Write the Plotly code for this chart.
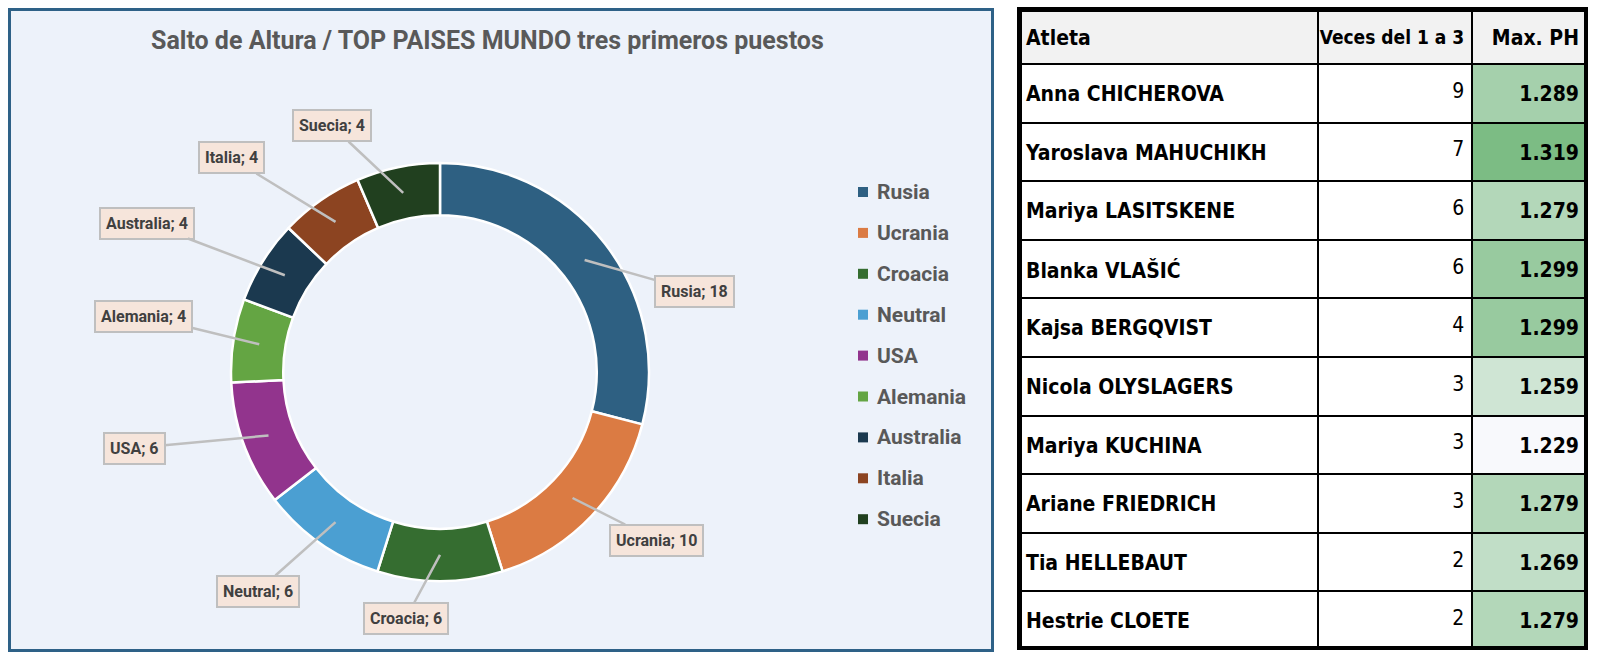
import math
import plotly.graph_objects as go

W, H = 1604, 664

# ---------------- data ----------------
countries = ["Rusia", "Ucrania", "Croacia", "Neutral", "USA", "Alemania", "Australia", "Italia", "Suecia"]
podiums = [18, 10, 6, 6, 6, 4, 4, 4, 4]

athletes = ["Anna CHICHEROVA", "Yaroslava MAHUCHIKH", "Mariya LASITSKENE", "Blanka VLAŠIĆ",
            "Kajsa BERGQVIST", "Nicola OLYSLAGERS", "Mariya KUCHINA", "Ariane FRIEDRICH",
            "Tia HELLEBAUT", "Hestrie CLOETE"]
times_top3 = [9, 7, 6, 6, 4, 3, 3, 3, 2, 2]
max_ph = [1.289, 1.319, 1.279, 1.299, 1.299, 1.259, 1.229, 1.279, 1.269, 1.279]
header_labels = ["Atleta", "Veces del 1 a 3", "Max. PH"]

TITLE = "Salto de Altura / TOP PAISES MUNDO tres primeros puestos"

# ---------------- style / layout ----------------
slice_colors = ["#2E6082", "#DB7B43", "#356D30", "#4B9FD2", "#92348D",
                "#64A543", "#1B394F", "#8C4421", "#21401F"]
CHART_FONT = "Roboto, Open Sans, sans-serif"
TABLE_FONT = "Liberation Sans Narrow, DejaVu Sans Condensed, Roboto Condensed, Arial Narrow, sans-serif"
GREY_TXT = "#595959"

CX, CY, R_OUT, HOLE = 440, 372, 209, 0.75
R_HEAD = R_OUT * (1 + HOLE) / 2
# callout box centres (pixels), one per slice
label_box_centres = [(694, 291), (656, 540), (406, 618), (258, 591), (134, 448),
                     (143, 316), (147, 223), (231, 158), (332, 126)]
LEG_X, LEG_Y0, LEG_DY = 858, 192, 40.9

TBL_X0, TBL_X1, TBL_Y0, TBL_Y1 = 1018, 1588, 8, 650
HEADER_H = 56
TEXT_DY = 10          # vertical centring offset of the cell text
col_widths = [301, 154, 115]


def px(x):
    return x / W


def py(y):
    return 1 - y / H


fig = go.Figure()

# donut
fig.add_trace(go.Pie(
    labels=countries, values=podiums, hole=HOLE, sort=False, direction="clockwise",
    rotation=0, textinfo="none", hoverinfo="label+value",
    marker=dict(colors=slice_colors, line=dict(color="white", width=2.5)),
    domain=dict(x=[px(CX - R_OUT), px(CX + R_OUT)], y=[py(CY + R_OUT), py(CY - R_OUT)]),
    showlegend=False,
))

# table
lo, hi = min(max_ph), max(max_ph)
c_lo, c_hi = (248, 249, 252), (124, 188, 132)


def scale_col(v):
    t = (v - lo) / (hi - lo)
    r, g, b = (round(a + (bb - a) * t) for a, bb in zip(c_lo, c_hi))
    return f"rgb({r},{g},{b})"


n_rows = len(athletes)
row_h = (TBL_Y1 - TBL_Y0 - HEADER_H) / n_rows

# grid + fills
fig.add_trace(go.Table(
    domain=dict(x=[px(TBL_X0), px(TBL_X1)], y=[py(TBL_Y1), py(TBL_Y0)]),
    columnwidth=col_widths,
    header=dict(values=["", "", ""], fill_color="#F2F2F2", line=dict(color="black", width=2),
                height=HEADER_H),
    cells=dict(
        values=[[""] * n_rows] * 3,
        fill_color=[["white"] * n_rows, ["white"] * n_rows, [scale_col(v) for v in max_ph]],
        line=dict(color="black", width=2), height=row_h,
    ),
    hoverinfo="skip",
))

# text layer (shifted down so the text sits vertically centred in each cell)
fig.add_trace(go.Table(
    domain=dict(x=[px(TBL_X0), px(TBL_X1)], y=[py(TBL_Y1 + TEXT_DY), py(TBL_Y0 + TEXT_DY)]),
    columnwidth=col_widths,
    header=dict(
        values=[f"<b>{h.replace(' ', chr(160))}</b>" for h in header_labels],
        fill_color="rgba(0,0,0,0)", line=dict(color="rgba(0,0,0,0)", width=0),
        align=["left", "right", "right"], height=HEADER_H,
        font=dict(family=TABLE_FONT, size=[21, 19, 21], color="black"),
    ),
    cells=dict(
        values=[[f"<b>{a}</b>" for a in athletes],
                [str(t) for t in times_top3],
                [f"<b>{v:.3f}</b>" for v in max_ph]],
        fill_color="rgba(0,0,0,0)", line=dict(color="rgba(0,0,0,0)", width=0),
        align=["left", "right", "right"], height=row_h,
        font=dict(family=TABLE_FONT, size=21, color="black"),
    ),
))

shapes = [
    dict(type="rect", xref="paper", yref="paper", x0=px(9.5), x1=px(992.5), y0=py(650.5), y1=py(9.5),
         line=dict(color="#2E6187", width=3), fillcolor="#EDF2FA", layer="below"),
    dict(type="rect", xref="paper", yref="paper", x0=px(TBL_X0 + 2), x1=px(TBL_X1 - 2),
         y0=py(TBL_Y1 - 2), y1=py(TBL_Y0 + 2), line=dict(color="black", width=4), layer="above"),
]

annotations = [
    dict(text=f"<b>{TITLE}</b>", x=px(488), y=py(41), xref="paper", yref="paper",
         xanchor="center", yanchor="middle", showarrow=False,
         font=dict(family=CHART_FONT, size=25, color=GREY_TXT)),
]

# legend
for i, (c, col) in enumerate(zip(countries, slice_colors)):
    yc = LEG_Y0 + i * LEG_DY
    shapes.append(dict(type="rect", xref="paper", yref="paper", x0=px(LEG_X), x1=px(LEG_X + 10),
                       y0=py(yc + 5), y1=py(yc - 5), fillcolor=col, line=dict(width=0)))
    annotations.append(dict(text=f"<b>{c}</b>", x=px(LEG_X + 17), y=py(yc), xref="paper", yref="paper",
                            xanchor="left", yanchor="middle", showarrow=False,
                            font=dict(family=CHART_FONT, size=21, color=GREY_TXT)))

# callout labels
total = sum(podiums)
cum = 0
for c, v, (bx, by) in zip(countries, podiums, label_box_centres):
    mid = (cum + v / 2) / total * 2 * math.pi
    cum += v
    hx = CX + R_HEAD * math.sin(mid)
    hy = CY - R_HEAD * math.cos(mid)
    annotations.append(dict(
        text=f"<b>{c}; {v}</b>", x=px(hx), y=py(hy), xref="paper", yref="paper",
        ax=bx - hx, ay=by - hy, showarrow=True, arrowhead=0, arrowwidth=2.5, arrowcolor="#BFBFBF",
        bgcolor="#F6E5DB", bordercolor="#BFBFBF", borderwidth=2, borderpad=5,
        font=dict(family=CHART_FONT, size=16, color="#404040"),
    ))

fig.update_layout(
    width=W, height=H, margin=dict(l=0, r=0, t=0, b=0),
    paper_bgcolor="white", plot_bgcolor="white",
    shapes=shapes, annotations=annotations, showlegend=False,
)

fig.write_html("out.html", config={"displayModeBar": False},
               post_script="document.body.style.margin='0';")
